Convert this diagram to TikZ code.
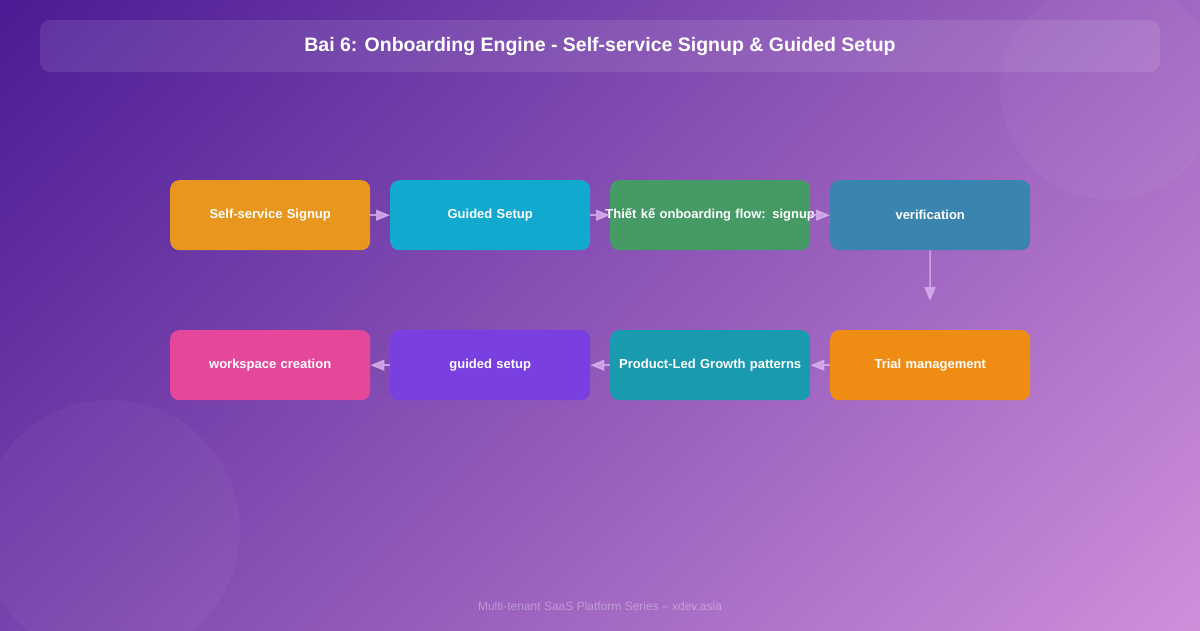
\documentclass[tikz,border=0pt]{standalone}
\usepackage{fontspec}
\setmainfont{Liberation Sans}
\usetikzlibrary{arrows.meta}
\definecolor{bgA}{HTML}{4A1A94}
\definecolor{bgB}{HTML}{D090DA}
\definecolor{cO}{HTML}{E8961E}
\definecolor{cC}{HTML}{12A9CF}
\definecolor{cG}{HTML}{459A66}
\definecolor{cS}{HTML}{3A85B0}
\definecolor{cP}{HTML}{E5479A}
\definecolor{cV}{HTML}{7A3FE0}
\definecolor{cT}{HTML}{1A9AAE}
\definecolor{cO2}{HTML}{EE8C14}
\definecolor{arr}{HTML}{D9B3EE}
\begin{document}
\begin{tikzpicture}[x=1pt,y=-1pt,
  box/.style={draw=none,rounded corners=9pt,minimum width=200pt,minimum height=70pt,text width=200pt,align=center,anchor=north west,text=white,font=\fontsize{13}{15}\selectfont\bfseries,inner sep=0pt},
  con/.style={draw=arr,draw opacity=0.8,fill opacity=0.8,line width=1.6pt,-{Triangle[length=14pt,width=11pt]}}]
\useasboundingbox (0,0) rectangle (1200,630);
\shade[top color=bgA,bottom color=bgB,shading angle=45] (-100,-300) rectangle (1300,930);
\fill[white,opacity=0.035] (110,530) circle (130);
\fill[white,opacity=0.035] (1110,90) circle (110);
\fill[white,opacity=0.1,rounded corners=10pt] (40,20) rectangle (1160,72);
\node[text=white,font=\fontsize{19.5}{22}\selectfont\bfseries] (title) at (600,46) {Bai 6: Onboarding Engine - Self-service Signup \& Guided Setup};
\node[box,fill=cO] (a) at (170,180) {Self-service Signup};
\node[box,fill=cC] (b) at (390,180) {Guided Setup};
\node[box,fill=cG] (c) at (610,180) {\makebox[200pt][c]{Thiết kế onboarding flow: signup}};
\node[box,fill=cS] (d) at (830,180) {verification};
\node[box,fill=cO2] (e) at (830,330) {Trial management};
\node[box,fill=cT] (f) at (610,330) {Product-Led Growth patterns};
\node[box,fill=cV] (g) at (390,330) {guided setup};
\node[box,fill=cP] (h) at (170,330) {workspace creation};
\coordinate (dv) at (930,301);
\draw[con] (a.east) -- (b.west);
\draw[con] (b.east) -- (c.west);
\draw[con] (c.east) -- (d.west);
\draw[con] (d.south) -- (dv);
\draw[con] (e.west) -- (f.east);
\draw[con] (f.west) -- (g.east);
\draw[con] (g.west) -- (h.east);
\node[text=white,opacity=0.35,font=\fontsize{12}{14}\selectfont] (foot) at (600,606) {Multi-tenant SaaS Platform Series – xdev.asia};
\end{tikzpicture}
\end{document}
